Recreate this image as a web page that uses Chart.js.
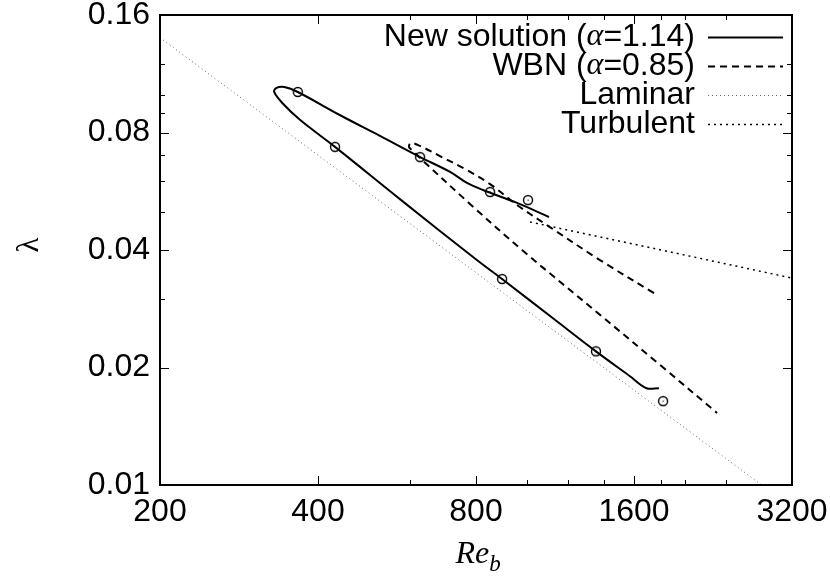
<!DOCTYPE html>
<html>
<head>
<meta charset="utf-8">
<script src="https://cdn.jsdelivr.net/npm/chart.js@4.4.0/dist/chart.umd.min.js"></script>
<style>
  html, body { margin: 0; padding: 0; background: #fff; }
</style>
</head>
<body>
<canvas id="myChart" width="830" height="581"></canvas>
<script>
// curve data (Re_b, lambda)
const newRe  = [1102, 958, 825, 769, 714, 626, 525, 440, 366, 345, 333, 330, 342, 370, 431, 573, 803, 897, 1131, 1354, 1572, 1690, 1785];
const newLam = [0.0486, 0.0528, 0.057, 0.0594, 0.0634, 0.0692, 0.0784, 0.0887, 0.1016, 0.1046, 0.104, 0.1016, 0.0952, 0.0861, 0.0735, 0.054, 0.0377, 0.0337, 0.0265, 0.022, 0.019, 0.0177, 0.0177];

const wbnRe  = [1747, 1378, 1106, 957, 851, 762, 683, 626, 602, 596, 610, 626, 779, 979, 1378, 1794, 2303];
const wbnLam = [0.031, 0.0377, 0.0458, 0.0522, 0.059, 0.0645, 0.0696, 0.0739, 0.0752, 0.0735, 0.0713, 0.0688, 0.0525, 0.04, 0.0273, 0.0203, 0.0153];

const lamRe  = [200, 2800];
const lamLam = [0.14, 0.01];

const turbRe  = [1014, 3200];
const turbLam = [0.0472, 0.0339];

// open circles (DNS points)
const dnsRe  = [366, 431, 626, 851, 1005, 897, 1354, 1818];
const dnsLam = [0.1016, 0.0735, 0.0692, 0.0563, 0.0537, 0.0337, 0.022, 0.0164];

// ticks
const xMajor = [200, 400, 800, 1600, 3200];
const xMinor = [600, 1000, 1200, 1400, 1800, 2000, 2400];
const yMajor = [0.01, 0.02, 0.04, 0.08, 0.16];
const yMinor = [0.03, 0.05, 0.06, 0.07, 0.09, 0.1, 0.12];

const pts = (xs, ys) => xs.map((x, i) => ({ x: x, y: ys[i] }));

// circle with a dot in the middle, like the gnuplot point
const circ = document.createElement('canvas');
circ.width = 12; circ.height = 12;
(function () {
    const c = circ.getContext('2d');
    c.strokeStyle = '#000';
    c.lineWidth = 1.4;
    c.beginPath();
    c.arc(6, 6, 4.5, 0, Math.PI * 2);
    c.stroke();
    c.fillStyle = '#000';
    c.fillRect(5.5, 5.5, 1.2, 1.2);
})();

const FONT = 'Liberation Sans, Arial, sans-serif';
const FS = 32;

// frame with inward ticks on all four sides
const framePlugin = {
    id: 'frame',
    afterDatasetsDraw(chart) {
        const { ctx, chartArea: a, scales } = chart;
        const x = scales.x, y = scales.y;
        ctx.save();
        ctx.strokeStyle = '#000';
        ctx.lineWidth = 1;
        ctx.beginPath();
        const xt = (v, len) => {
            const p = Math.round(x.getPixelForValue(v)) + 0.5;
            ctx.moveTo(p, a.bottom); ctx.lineTo(p, a.bottom - len);
            ctx.moveTo(p, a.top); ctx.lineTo(p, a.top + len);
        };
        const yt = (v, len) => {
            const p = Math.round(y.getPixelForValue(v)) + 0.5;
            ctx.moveTo(a.left, p); ctx.lineTo(a.left + len, p);
            ctx.moveTo(a.right, p); ctx.lineTo(a.right - len, p);
        };
        xMajor.forEach(v => xt(v, 9));
        xMinor.forEach(v => xt(v, 5));
        yMajor.forEach(v => yt(v, 9));
        yMinor.forEach(v => yt(v, 5));
        ctx.stroke();
        ctx.lineWidth = 2;
        ctx.strokeRect(a.left, a.top, a.right - a.left, a.bottom - a.top);
        ctx.restore();
    }
};

// gnuplot-style key: text right aligned, sample line on the right
const keyPlugin = {
    id: 'key',
    afterDraw(chart) {
        const ctx = chart.ctx;
        const normal = FS + 'px ' + FONT;
        const greek = 'italic ' + FS + 'px "Liberation Serif", serif';
        ctx.save();
        ctx.fillStyle = '#000';
        ctx.textBaseline = 'middle';
        let row = 0;
        chart.data.datasets.forEach(ds => {
            if (!ds.label) return;
            const yy = 37 + row * 29;
            const parts = ds.label.split('α');
            let w = 0;
            const segs = [];
            parts.forEach((p, i) => {
                if (i > 0) segs.push({ t: 'α', f: greek });
                segs.push({ t: p, f: normal });
            });
            segs.forEach(s => { ctx.font = s.f; s.w = ctx.measureText(s.t).width; w += s.w; });
            let xx = 695 - w;
            segs.forEach(s => { ctx.font = s.f; ctx.textAlign = 'left'; ctx.fillText(s.t, xx, yy); xx += s.w; });
            ctx.strokeStyle = ds.borderColor;
            ctx.lineWidth = ds.borderWidth;
            ctx.setLineDash(ds.borderDash || []);
            ctx.beginPath();
            ctx.moveTo(708, yy + 0.5);
            ctx.lineTo(783, yy + 0.5);
            ctx.stroke();
            ctx.setLineDash([]);
            row++;
        });

        // axis titles
        const a = chart.chartArea;
        const cx = (a.left + a.right) / 2;
        ctx.textBaseline = 'alphabetic';
        ctx.font = 'italic 32px "Liberation Serif", serif';
        const wRe = ctx.measureText('Re').width;
        ctx.font = 'italic 23px "Liberation Serif", serif';
        const wb = ctx.measureText('b').width;
        let sx = cx - (wRe + wb) / 2 + 2;
        ctx.font = 'italic 32px "Liberation Serif", serif';
        ctx.textAlign = 'left';
        ctx.fillText('Re', sx, 563);
        ctx.font = 'italic 23px "Liberation Serif", serif';
        ctx.fillText('b', sx + wRe, 571);

        ctx.translate(30, 245);
        ctx.rotate(-Math.PI / 2);
        ctx.textAlign = 'center';
        ctx.textBaseline = 'middle';
        ctx.font = '31px "Liberation Serif", serif';
        ctx.fillText('λ', 0, 0);
        ctx.restore();
    }
};

new Chart(document.getElementById('myChart'), {
    type: 'scatter',
    data: {
        datasets: [
            {
                label: 'New solution (α=1.14)',
                data: pts(newRe, newLam),
                showLine: true, tension: 0.35,
                borderColor: '#000', borderWidth: 2, pointRadius: 0
            },
            {
                label: 'WBN (α=0.85)',
                data: pts(wbnRe, wbnLam),
                showLine: true, tension: 0.35,
                borderColor: '#000', borderWidth: 2, borderDash: [7, 5], pointRadius: 0
            },
            {
                label: 'Laminar',
                data: pts(lamRe, lamLam),
                showLine: true,
                borderColor: '#666', borderWidth: 1, borderDash: [1, 3], pointRadius: 0
            },
            {
                label: 'Turbulent',
                data: pts(turbRe, turbLam),
                showLine: true,
                borderColor: '#000', borderWidth: 1.5, borderDash: [2, 4], pointRadius: 0
            },
            {
                label: '',
                data: pts(dnsRe, dnsLam),
                showLine: false,
                pointStyle: circ, pointRadius: 6
            }
        ]
    },
    options: {
        responsive: false,
        animation: false,
        devicePixelRatio: 1,
        layout: { padding: { top: 15, right: 38, left: 0, bottom: 0 } },
        plugins: { legend: { display: false }, tooltip: { enabled: false } },
        scales: {
            x: {
                type: 'logarithmic', min: 200, max: 3200,
                afterBuildTicks: s => { s.ticks = xMajor.map(v => ({ value: v })); },
                afterFit: s => { s.height = 96; s.paddingLeft = 0; s.paddingRight = 0; },
                grid: { display: false, drawTicks: false },
                border: { display: false },
                ticks: {
                    padding: 8, color: '#000', autoSkip: false, maxRotation: 0,
                    font: { family: FONT, size: FS },
                    callback: v => String(v)
                }
            },
            y: {
                type: 'logarithmic', min: 0.01, max: 0.16,
                afterBuildTicks: s => { s.ticks = yMajor.map(v => ({ value: v })); },
                afterFit: s => { s.width = 160; s.paddingTop = 0; s.paddingBottom = 0; },
                grid: { display: false, drawTicks: false },
                border: { display: false },
                ticks: {
                    padding: 10, color: '#000', autoSkip: false,
                    font: { family: FONT, size: FS },
                    callback: v => Number(v).toFixed(2)
                }
            }
        }
    },
    plugins: [framePlugin, keyPlugin]
});
</script>
</body>
</html>
